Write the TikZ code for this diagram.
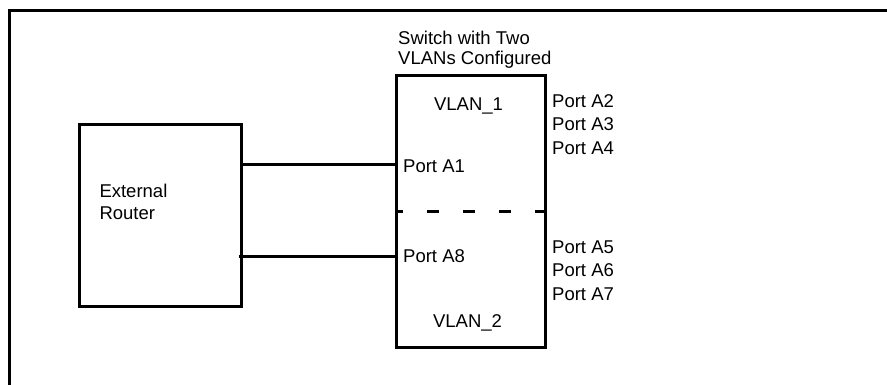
\documentclass[tikz,border=0pt]{standalone}
\usepackage{fontspec}
\setmainfont{Liberation Sans}
\usetikzlibrary{positioning}

\tikzset{
  box/.style={draw,rectangle,line width=3pt,inner sep=0pt},
  wire/.style={line width=3pt},
  lbl/.style={font=\fontsize{18.5}{22}\selectfont,inner sep=0pt,anchor=base west},
}

\begin{document}
\begin{tikzpicture}[x=1pt,y=1pt]
\useasboundingbox (0,0) rectangle (887,-385);
\draw[line width=3pt] (9.5,-385) -- (9.5,-10.5) -- (887,-10.5);

% router and switch
\node[box,minimum width=161.5,minimum height=181] (router) at (160.25,-215.5) {};
\node[box,minimum width=149.5,minimum height=272] (switch) at (470.75,-211.7) {};
\draw[wire,dash pattern=on 12pt off 24pt] (switch.east) -- (switch.west);

\node[lbl] (ext) at (99.3,-197.3) {External};
\node[lbl] (rtr) at (99.3,-220) {Router};
\node[lbl] (title1) at (398,-45) {Switch with Two};
\node[lbl] (title2) at (398,-65) {VLANs Configured};
\node[lbl,anchor=base] (vlan1) at (468.5,-111) {VLAN\_1};
\node[lbl,anchor=base] (vlan2) at (467.5,-327.7) {VLAN\_2};

% links
\coordinate (a1) at (0,-164.5);
\coordinate (a8) at (0,-256.5);
\draw[wire] (router.east |- a1) -- (switch.west |- a1);
\draw[wire] ([xshift=-4pt]router.east |- a8) -- (switch.west |- a8);
\node[lbl] (pA1) at (403,-173) {Port A1};
\node[lbl] (pA8) at (403,-262) {Port A8};

% ports on the right
\node[lbl] (pA2) at (552,-107.7) {Port A2};
\node[lbl] (pA3) at (552,-131) {Port A3};
\node[lbl] (pA4) at (552,-154.3) {Port A4};
\node[lbl] (pA5) at (552,-253.3) {Port A5};
\node[lbl] (pA6) at (552,-276.7) {Port A6};
\node[lbl] (pA7) at (552,-300) {Port A7};

\end{tikzpicture}
\end{document}
